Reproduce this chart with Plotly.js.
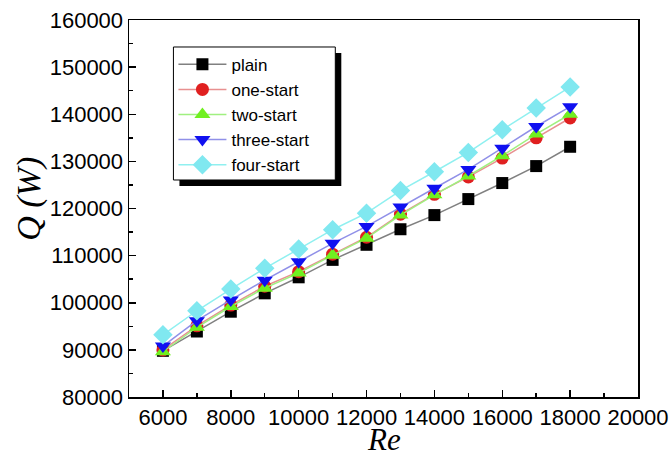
<!DOCTYPE html>
<html><head><meta charset="utf-8">
<script src="https://cdn.plot.ly/plotly-3.0.1.min.js"></script>
<style>html,body{margin:0;padding:0;background:#fff}</style>
</head><body>
<div id="chart" style="width:669px;height:456px"></div>
<script>
const re = [6000, 7000, 8000, 9000, 10000, 11000, 12000, 13000, 14000, 15000, 16000, 17000, 18000];
const plain = [89800, 93900, 98100, 102000, 105400, 109100, 112300, 115600, 118600, 122000, 125400, 129000, 133100];
const oneStart = [90000, 95100, 99500, 103500, 106600, 110300, 113900, 118800, 123000, 126700, 130700, 135000, 139200];
const twoStart = [89600, 94800, 99200, 103100, 106300, 110100, 113700, 118600, 122900, 126900, 131200, 135800, 140000];
const threeStart = [90800, 96200, 100600, 104800, 108700, 112600, 116200, 120300, 124300, 128300, 132800, 137400, 141600];
const fourStart = [93200, 98300, 102900, 107300, 111400, 115500, 119000, 123800, 127800, 131900, 136700, 141300, 145800];
const names = ["plain", "one-start", "two-start", "three-start", "four-start"];
const xTitle = "Re";
const yTitle = "Q (W)";

const series = [plain, oneStart, twoStart, threeStart, fourStart];
const lineColors = ["#808080", "#e89090", "#a0f080", "#9090e8", "#90f0f0"];
const markerColors = ["#000000", "#e02020", "#70f020", "#1010f0", "#80e8f0"];
const symbols = ["square", "circle", "triangle-up", "triangle-down", "diamond"];
const sizes = [12, 13, 14, 14, 15];

const traces = series.map((y, i) => ({
  x: re, y: y, name: names[i], type: "scatter", mode: "lines+markers",
  line: {color: lineColors[i], width: 1.5},
  marker: {color: markerColors[i], symbol: symbols[i], size: sizes[i], line: {width: 0}}
}));

const sans = "'Liberation Sans', Arial, sans-serif";
const serif = "'Liberation Serif', 'Times New Roman', serif";
const axisFont = {family: sans, size: 22, color: "#000"};
const layout = {
  width: 669, height: 456,
  margin: {l: 128.5, r: 31, t: 20, b: 59},
  paper_bgcolor: "#fff", plot_bgcolor: "#fff",
  showlegend: true,
  xaxis: {
    range: [5000, 20000], tickmode: "linear", tick0: 6000, dtick: 2000, tickformat: "d",
    ticks: "inside", ticklen: 7, tickwidth: 1.5, tickcolor: "#000",
    minor: {dtick: 1000, ticks: "inside", ticklen: 4, tickwidth: 1.5, tickcolor: "#000"},
    showline: true, linecolor: "#000", linewidth: 1.5, mirror: true,
    showgrid: false, zeroline: false, tickfont: axisFont
  },
  yaxis: {
    range: [80000, 160000], tickmode: "linear", tick0: 80000, dtick: 10000, tickformat: "d",
    ticks: "inside", ticklen: 7, tickwidth: 1.5, tickcolor: "#000",
    minor: {dtick: 5000, ticks: "inside", ticklen: 4, tickwidth: 1.5, tickcolor: "#000"},
    showline: true, linecolor: "#000", linewidth: 1.5, mirror: true,
    showgrid: false, zeroline: false, tickfont: axisFont
  },
  annotations: [
    {text: xTitle, xref: "paper", yref: "paper", x: 0.5, y: -0.113,
     xanchor: "center", yanchor: "middle", showarrow: false, borderpad: 0,
     font: {family: serif, size: 31, color: "#000", style: "italic"}},
    {text: yTitle, xref: "paper", yref: "paper", x: -0.197, y: 0.525, textangle: -90,
     xanchor: "center", yanchor: "middle", showarrow: false,
     font: {family: serif, size: 34, color: "#000", style: "italic"}}
  ],
  legend: {
    x: 0.0873, y: 0.929, xanchor: "left", yanchor: "top",
    bgcolor: "rgba(0,0,0,0)", borderwidth: 0,
    font: {family: sans, size: 17, color: "#000"},
    tracegroupgap: 0, itemwidth: 48
  },
  shapes: [
    {type: "rect", xref: "paper", yref: "paper", layer: "above",
     x0: 0.0991, x1: 0.4171, y0: 0.5597, y1: 0.9125,
     fillcolor: "#000", line: {width: 0}},
    {type: "rect", xref: "paper", yref: "paper", layer: "above",
     x0: 0.0873, x1: 0.4053, y0: 0.5756, y1: 0.9284,
     fillcolor: "#fff", line: {color: "#000", width: 1}}
  ]
};
Plotly.newPlot("chart", traces, layout, {staticPlot: true});
</script>
</body></html>
